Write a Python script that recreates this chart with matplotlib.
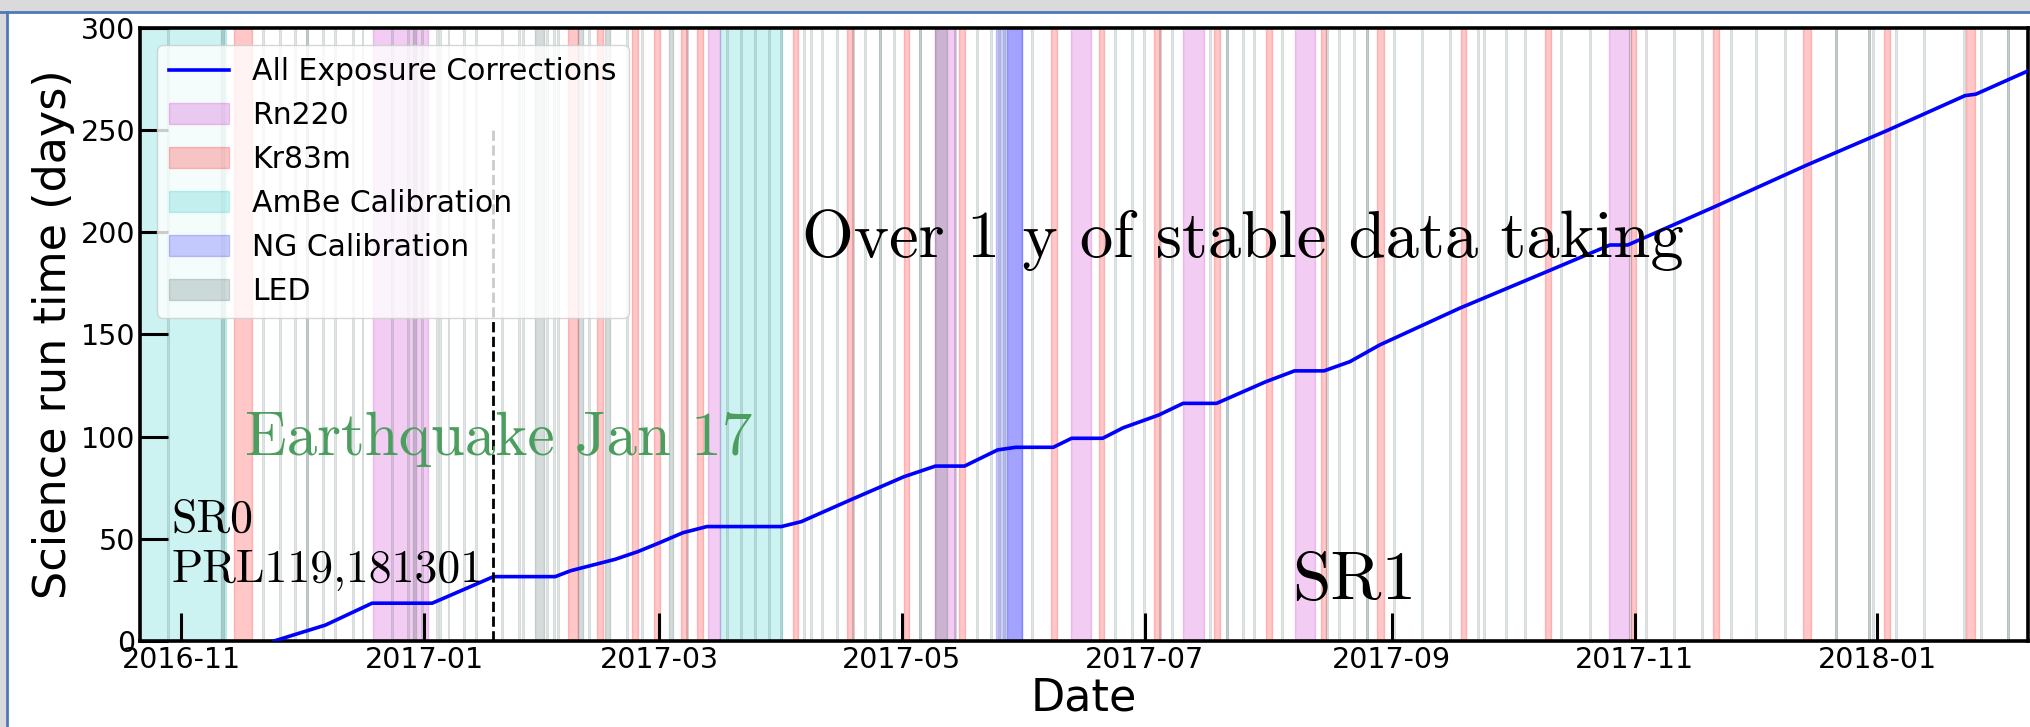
import numpy as np
import pandas as pd
import matplotlib
matplotlib.use("Agg")
import matplotlib.pyplot as plt
import matplotlib.dates as mdates
from matplotlib.patches import Patch, Rectangle
from matplotlib.lines import Line2D

# every time below is in days after t0
t0 = "2016-11-01"

# cumulative science run time
run_day = [23.3, 36.2, 47.9, 63.0, 78.4, 93.9, 97.8, 109.0, 114.6, 120.0, 126.0, 132.0,
           150.7, 155.7, 168.0, 181.5, 189.4, 196.7, 205.0, 209.6, 219.0, 223.6, 231.4,
           236.5, 245.5, 251.6, 260.0, 272.4, 279.6, 287.0, 293.5, 301.0, 321.0, 343.0,
           358.8, 363.3, 385.2, 408.0, 428.4, 448.0, 450.7, 466.0]
run_time = [0, 7.8, 18.5, 18.5, 31.5, 31.5, 34.4, 40.0, 43.7, 48.0, 53.0, 56.0,
            56.0, 58.4, 69.0, 80.4, 85.6, 85.6, 93.5, 94.8, 94.8, 99.2, 99.2,
            104.3, 110.6, 116.3, 116.3, 126.9, 132.2, 132.2, 136.7, 144.9, 162.8, 180.8,
            193.8, 193.8, 212.6, 232.7, 249.8, 266.9, 267.6, 280.9]

# calibration periods (start, end)
rn220 = [(48.2, 61.9), (132.4, 135.3), (189.4, 194.4), (223.5, 228.5), (251.5, 256.9),
         (279.6, 284.8), (358.7, 363.6)]
kr83m = [(13.2, 17.8), (97.2, 99.5), (104.3, 105.9), (113.3, 114.8), (118.6, 120.1),
         (125.5, 126.9), (129.5, 131.0), (153.5, 155.0), (167.2, 168.6), (181.4, 182.8),
         (195.4, 196.9), (218.3, 219.9), (230.4, 231.8), (244.2, 245.7), (259.3, 260.8),
         (272.5, 273.9), (286.3, 287.6), (300.3, 302.0), (321.3, 322.7), (342.6, 344.1),
         (364.2, 365.4), (384.7, 386.2), (407.4, 409.4), (427.6, 429.1), (448.2, 450.6)]
ambe = [(-20.0, 11.1), (135.3, 150.8)]
ng = [(204.6, 211.1), (207.4, 211.1)]
led_long = [(10.0, 10.8), (58.3, 59.0), (88.9, 91.1), (99.5, 101.0), (106.4, 107.7),
            (122.6, 123.4), (189.4, 192.3)]
led_day = [-3.4, 20.6, 24.8, 28.6, 31.5, 31.5, 35.7, 38.6, 43.2, 45.5, 52.8, 56.9, 60.4,
           64.1, 65.0, 67.1, 70.9, 74.0, 80.5, 84.7, 85.9, 91.8, 93.5, 94.7, 102.3, 111.9,
           115.6, 127.0, 137.0, 140.5, 144.2, 147.5, 150.5, 156.3, 158.1, 160.9, 164.6,
           168.8, 171.8, 175.5, 175.5, 178.9, 185.6, 185.6, 194.4, 199.8, 203.4, 205.3,
           206.5, 213.6, 234.6, 238.8, 241.7, 245.8, 248.8, 258.3, 262.6, 262.6, 266.7,
           269.3, 276.5, 287.8, 290.7, 294.5, 297.7, 297.7, 304.5, 311.6, 318.6, 325.7,
           327.1, 332.7, 337.6, 346.6, 353.7, 363.9, 367.8, 374.9, 382.0, 389.1, 395.6,
           402.8, 415.7, 415.7, 423.9, 423.9, 425.0, 430.6, 437.7, 447.7, 451.9, 458.8, 458.8]

quake_day = 78.4

x0 = mdates.date2num(pd.Timestamp(t0))

fig = plt.figure(figsize=(20.31, 7.27), dpi=100)

# slide frame around the plot
fig.patches.append(Rectangle((0, 1 - 11 / 727), 1, 11 / 727, transform=fig.transFigure,
                             color="#dadada", zorder=0))
fig.patches.append(Rectangle((0, 0), 5 / 2031, 1, transform=fig.transFigure,
                             color="#dadada", zorder=0))
fig.lines.append(Line2D([0, 1], [1 - 12 / 727] * 2, transform=fig.transFigure,
                        color="#4f78b8", lw=2))
fig.lines.append(Line2D([7 / 2031] * 2, [0, 1 - 12 / 727], transform=fig.transFigure,
                        color="#4f78b8", lw=2))

ax = fig.add_axes([0.0689, 0.1183, 0.9296, 0.8432])

for a, b in ambe:
    ax.axvspan(x0 + a, x0 + b, color="c", alpha=0.2)
for a, b in rn220:
    ax.axvspan(x0 + a, x0 + b, color="m", alpha=0.2)
for a, b in kr83m:
    ax.axvspan(x0 + a, x0 + b, color="red", alpha=0.22)
for a, b in ng:
    ax.axvspan(x0 + a, x0 + b, color="b", alpha=0.2)
for a, b in led_long:
    ax.axvspan(x0 + a, x0 + b, color="darkslategrey", alpha=0.2)
for d in led_day:
    ax.axvspan(x0 + d - 0.25, x0 + d + 0.25, color="darkslategrey", alpha=0.15, lw=0.6)

ax.plot(x0 + np.array(run_day), run_time, color="b", lw=2.6, zorder=3)
ax.vlines(x0 + quake_day, 0, 250, colors="k", linestyles="--", lw=2, zorder=3)

ax.set_xlim(x0 - 10.4, x0 + 463.8)
ax.set_ylim(0, 300)
ax.xaxis.set_major_locator(mdates.MonthLocator(bymonth=[1, 3, 5, 7, 9, 11]))
ax.xaxis.set_major_formatter(mdates.DateFormatter("%Y-%m"))
ax.set_yticks(range(0, 301, 50))
ax.tick_params(direction="in", length=20, width=2.2, labelsize=20.5)
for s in ax.spines.values():
    s.set_linewidth(2.6)
ax.set_xlabel("Date", fontsize=32, labelpad=2)
ax.set_ylabel("Science run time (days)", fontsize=32)

# annotations
ax.text(x0 + 155.8, 188, "Over 1 y of stable data taking", family="cmr10", fontsize=48,
        va="baseline")
ax.text(x0 + 279.1, 20.5, "SR1", family="cmr10", fontsize=50, va="baseline")
ax.text(x0 - 2.5, 53.5, "SR0", family="cmr10", fontsize=33, va="baseline")
ax.text(x0 - 2.5, 29, "PRL119,181301", family="cmr10", fontsize=33, va="baseline")
ax.text(x0 + 16, 91, "Earthquake Jan 17", family="cmr10", fontsize=44, va="baseline",
        color="#4c9e5e")

handles = [
    Line2D([], [], color="b", lw=2.6, label="All Exposure Corrections"),
    Patch(facecolor="m", edgecolor="m", alpha=0.2, label="Rn220"),
    Patch(facecolor="red", edgecolor="red", alpha=0.22, label="Kr83m"),
    Patch(facecolor="c", edgecolor="c", alpha=0.2, label="AmBe Calibration"),
    Patch(facecolor="b", edgecolor="b", alpha=0.2, label="NG Calibration"),
    Patch(facecolor="darkslategrey", edgecolor="darkslategrey", alpha=0.2, label="LED"),
]
ax.legend(handles=handles, loc="upper left", bbox_to_anchor=(0.009, 0.972),
          borderaxespad=0, fontsize=21.5)

fig.savefig("out.png", dpi=100)
